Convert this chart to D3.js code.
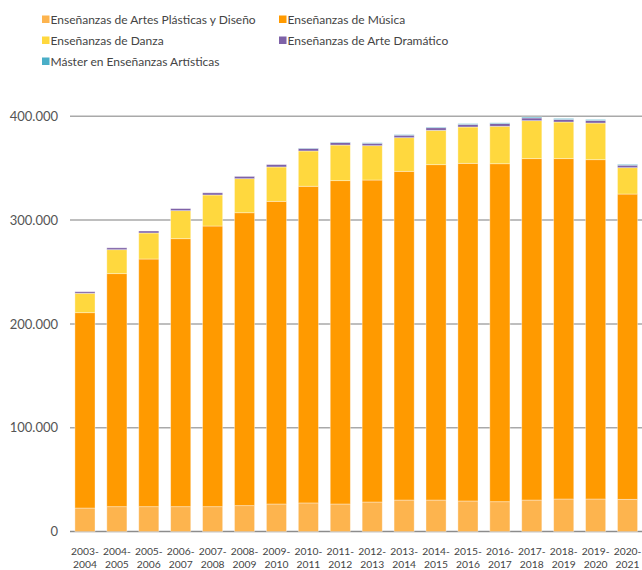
<!DOCTYPE html>
<html><head><meta charset="utf-8">
<script src="https://cdn.jsdelivr.net/npm/d3@7"></script>
<style>body{margin:0;background:#fff;}svg{display:block;font-family:Lato,"Open Sans",sans-serif;}</style>
</head><body><svg id="c" width="642" height="570"></svg>
<script>
const years = ["2003-2004","2004-2005","2005-2006","2006-2007","2007-2008","2008-2009","2009-2010","2010-2011","2011-2012","2012-2013","2013-2014","2014-2015","2015-2016","2016-2017","2017-2018","2018-2019","2019-2020","2020-2021"];
const seriesNames = ["Enseñanzas de Artes Plásticas y Diseño","Enseñanzas de Música","Enseñanzas de Danza","Enseñanzas de Arte Dramático","Máster en Enseñanzas Artísticas"];
const artesPlasticas = [22600,23900,23900,23900,23900,24900,26500,27500,26500,28400,30300,30300,29400,28700,30300,31300,31300,31000];
const musica = [188200,224500,238600,258200,270400,282200,291600,305100,311500,310200,316700,323100,325300,325600,328900,327900,326900,294100];
const danza = [18700,23100,25100,27000,29900,32800,33100,34000,34300,33100,32400,33100,35000,36100,36600,35300,35300,25400];
const arteDramatico = [1500,1800,1900,2000,2100,2200,2300,2500,2400,2300,2400,2500,2500,2600,2600,2500,2500,2400];
const master = [0,0,0,0,0,0,0,300,400,500,500,600,700,700,900,900,900,800];
const yTicks = [0,100000,200000,300000,400000];
const colors = ["#FDB44E","#FF9A00","#FFD83E","#7E62A8","#4AAEC7"];

const svg = d3.select("#c");
const data = years.map((y,i)=>({year:y, s0:artesPlasticas[i], s1:musica[i], s2:danza[i], s3:arteDramatico[i], s4:master[i]}));
const keys = ["s0","s1","s2","s3","s4"];
const stacked = d3.stack().keys(keys)(data);

const x = d3.scaleBand().domain(years).range([69,643.5]).paddingInner(0.37).paddingOuter(0.185);
const y = d3.scaleLinear().domain([0,400000]).range([531.5,116.3]);
const fmt = v => v===0 ? "0" : d3.format(",")(v).replace(/,/g,".");

// grid
svg.append("g").selectAll("line").data(yTicks).join("line")
  .attr("x1",70).attr("x2",642).attr("y1",d=>y(d)).attr("y2",d=>y(d))
  .attr("stroke",d=>d===0?"#8c8c8c":"#a9a9a9").attr("stroke-width",1.5);

// y axis labels
const yAxis = d3.axisLeft(y).tickValues(yTicks).tickFormat(fmt).tickSize(0).tickPadding(0);
const ya = svg.append("g").attr("transform","translate(58,0)").call(yAxis);
ya.select(".domain").remove();
ya.selectAll("text").attr("font-size",13).attr("fill","#555").attr("font-family","Lato,'Open Sans',sans-serif");

// bars
svg.append("g").selectAll("g").data(stacked).join("g").attr("fill",(d,i)=>colors[i])
  .selectAll("rect").data(d=>d).join("rect")
  .attr("x",d=>x(d.data.year)).attr("width",x.bandwidth())
  .attr("y",d=>y(d[1])).attr("height",d=>Math.max(0,y(d[0])-y(d[1])))
  .attr("stroke","rgba(255,255,255,0.45)").attr("stroke-width",0.8);

// x labels
const xl = svg.append("g").selectAll("text").data(years).join("text")
  .attr("text-anchor","middle").attr("font-size",10.3).attr("fill","#444")
  .attr("transform",d=>`translate(${x(d)+x.bandwidth()/2},0)`);
xl.append("tspan").attr("x",0).attr("y",555).text(d=>d.split("-")[0]+"-");
xl.append("tspan").attr("x",0).attr("y",568).text(d=>d.split("-")[1]);

// legend
const legPos = [[42,20],[279,20],[42,41],[279,41],[42,62]];
const lg = svg.append("g").selectAll("g").data(seriesNames).join("g")
  .attr("transform",(d,i)=>`translate(${legPos[i][0]},${legPos[i][1]})`);
lg.append("rect").attr("x",0).attr("y",-4.5).attr("width",7.5).attr("height",7.5).attr("fill",(d,i)=>colors[i]);
lg.append("text").attr("x",8.5).attr("y",0).attr("dy","0.35em").attr("font-size",12).attr("fill","#444").text(d=>d);
</script></body></html>
